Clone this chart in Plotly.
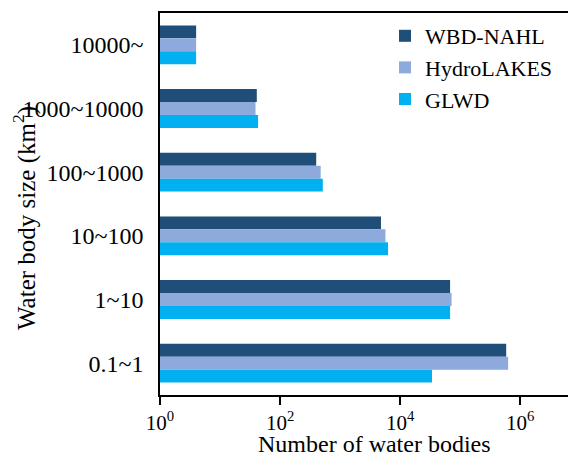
import plotly.graph_objects as go

categories = ["10000~", "1000~10000", "100~1000", "10~100", "1~10", "0.1~1"]
wbd_nahl = [4, 41, 400, 4800, 68000, 585000]
hydrolakes = [4, 39, 475, 5700, 72000, 630000]
glwd = [4, 43, 515, 6300, 68000, 34000]

series = [
    ("WBD-NAHL", wbd_nahl, "#1F4E79"),
    ("HydroLAKES", hydrolakes, "#8EA9DB"),
    ("GLWD", glwd, "#00B0F0"),
]

tick_vals = [1, 100, 10000, 1000000]
tick_text = ["10<sup>0</sup>", "10<sup>2</sup>", "10<sup>4</sup>", "10<sup>6</sup>"]

FONT = "Liberation Serif"
OFF = 8  # page body margin
# desired plot area in page pixels
X0, X1, Y0, Y1 = 160, 576, 13, 395
W, H = 576 - OFF, 457 - OFF
PW, PH = X1 - X0, Y1 - Y0


def px(x):
    return (x - X0) / PW


def py(y):
    return (Y1 - y) / PH


fig = go.Figure()
for name, vals, color in series:
    fig.add_trace(go.Bar(
        y=categories, x=vals, name=name, orientation="h",
        marker=dict(color=color, line=dict(width=0)),
    ))

fig.update_layout(
    width=W, height=H,
    margin=dict(l=X0 - OFF, r=0, t=Y0 - OFF, b=H - (Y1 - OFF), pad=0),
    barmode="group", bargap=0.39, bargroupgap=0,
    plot_bgcolor="white", paper_bgcolor="white",
    font=dict(family=FONT, size=24, color="black"),
    showlegend=True,
    legend=dict(x=px(385), y=py(15), xanchor="left", yanchor="top",
                font=dict(family=FONT, size=22, color="black"),
                bgcolor="rgba(0,0,0,0)", tracegroupgap=0),
    xaxis=dict(
        type="log", range=[0, 6.93], automargin=False,
        tickvals=tick_vals, ticktext=tick_text,
        ticks="outside", ticklen=8, tickwidth=1.5, tickcolor="black",
        showline=True, linecolor="black", linewidth=1.5, mirror=True,
        showgrid=False, zeroline=False,
        tickfont=dict(family=FONT, size=21),
        ticklabelstandoff=0,
    ),
    yaxis=dict(
        type="category", range=[5.5, -0.5], automargin=False,
        showline=True, linecolor="black", linewidth=1.5, mirror=False,
        ticks="", showgrid=False, zeroline=False,
        tickfont=dict(family=FONT, size=24),
        ticklabelstandoff=10,
    ),
    annotations=[
        dict(
            text="Water body size (km<sup>2</sup>)", textangle=-90,
            xref="paper", yref="paper", x=px(24), y=py(218),
            xanchor="center", yanchor="middle", showarrow=False,
            font=dict(family=FONT, size=25, color="black"),
        ),
        dict(
            text="Number of water bodies",
            xref="paper", yref="paper", x=px(374), y=py(444),
            xanchor="center", yanchor="middle", showarrow=False,
            font=dict(family=FONT, size=24, color="black"),
        ),
    ],
)

fig.write_html("out.html")
